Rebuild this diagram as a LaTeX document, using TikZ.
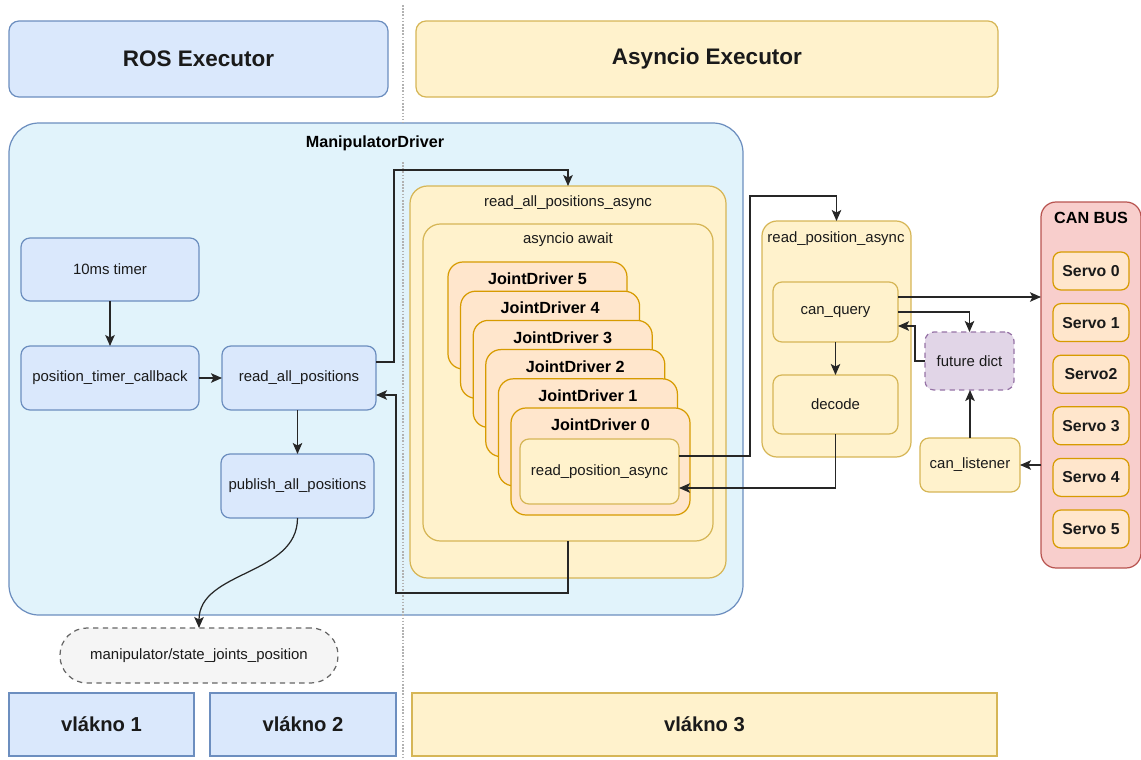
\documentclass[tikz,border=0pt]{standalone}
\usepackage{fontspec}
\setmainfont{Liberation Sans}
\usetikzlibrary{arrows.meta, positioning, calc}
\definecolor{BF}{HTML}{DAE8FC}
\definecolor{BS}{HTML}{6C8EBF}
\definecolor{CF}{HTML}{E1F3FB}
\definecolor{YF}{HTML}{FFF2CC}
\definecolor{YS}{HTML}{D6B656}
\definecolor{OF}{HTML}{FFE6CC}
\definecolor{OS}{HTML}{D79B00}
\definecolor{RF}{HTML}{F8CECC}
\definecolor{RS}{HTML}{B85450}
\definecolor{PF}{HTML}{E1D5E7}
\definecolor{PS}{HTML}{9673A6}
\definecolor{GF}{HTML}{F5F5F5}
\definecolor{GS}{HTML}{666666}
\definecolor{TX}{HTML}{1A1A1A}
\newcommand{\fsz}[1]{\fontsize{#1}{#1}\selectfont}

\begin{document}
\begin{tikzpicture}[x=0.2mm, y=-0.2mm,
  dim/.style 2 args={minimum width=#1*0.2mm, minimum height=#2*0.2mm},
  base/.style={anchor=north west, inner sep=0pt, outer sep=0pt, line width=0.7pt,
               align=center, text=TX, font=\fsz{8.5pt}},
  bbox/.style={base, draw=BS, fill=BF, rounded corners=1.8mm},
  ybox/.style={base, draw=YS, fill=YF, rounded corners=1.8mm},
  obox/.style={base, draw=OS, fill=OF, rounded corners=1.6mm, font=\fsz{9pt}\bfseries},
  lbl/.style={text=TX, font=\fsz{8.5pt}},
  ttl/.style={text=black, font=\fsz{9.2pt}\bfseries},
  thr/.style={rounded corners=0pt, font=\fsz{11.5pt}\bfseries},
  exe/.style={rounded corners=2mm, font=\fsz{12.8pt}\bfseries},
  dsh/.style={dash pattern=on 3pt off 2.5pt},
  arr/.style={-{Stealth[length=2.2mm, width=1.9mm, inset=0.5mm]}, line width=0.7pt, draw=black!85},
  divider/.style={draw=gray!60, line width=1.1pt, dash pattern=on 0.9pt off 0.9pt}
]
\useasboundingbox (0,0) rectangle (1141,760);

% executors
\node[bbox, exe, dim={379}{76}] (rosx) at (9,21) {ROS Executor};
\node[ybox, exe, dim={582}{76}] (asyx) at (416,21) {Asyncio Executor};

% manipulator driver
\node[base, draw=BS, fill=CF, dim={734}{492}, rounded corners=6mm] (mdrv) at (9,123) {};
\node[ttl] (mdlbl) at (375,143) {ManipulatorDriver};

\draw[divider] (403,5) -- (403,123);
\draw[divider] (403,162) -- (403,760);

\node[bbox, dim={178}{63}] (timer) at (21,238) {10ms timer};
\node[bbox, dim={178}{64}] (tcb) at (21,346) {position\_timer\_callback};
\node[bbox, dim={154}{64}] (rap) at (222,346) {read\_all\_positions};
\node[bbox, dim={153}{64}] (pub) at (221,454) {publish\_all\_positions};

\node[base, draw=GS, fill=GF, dsh, dim={278}{55}, rounded corners=5.4mm] (topic) at (60,628)
  {manipulator/state\_joints\_position};

% threads
\node[bbox, thr, dim={185}{63}] (th1) at (9,693) {vlákno 1};
\node[bbox, thr, dim={186}{63}] (th2) at (210,693) {vlákno 2};
\node[ybox, thr, dim={585}{63}] (th3) at (412,693) {vlákno 3};

% async part
\node[ybox, dim={316}{392}, rounded corners=3.5mm] (rapa) at (410,186) {};
\node[lbl] at (568,203) {read\_all\_positions\_async};
\node[ybox, dim={290}{317}, rounded corners=3.5mm] (await) at (423,224) {};
\node[lbl] at (568,240) {asyncio await};

\foreach \i in {5,...,0} {
  \node[obox, dim={179}{107}, rounded corners=3mm] (jd\i) at ({511-12.6*\i},{408-29.2*\i}) {};
  \node[ttl] at ($(jd\i.north)+(0,17)$) {JointDriver \i};
}
\node[ybox, dim={159}{65}] (rpai) at (520,439) {read\_position\_async};

% can side
\node[ybox, dim={149}{236}, rounded corners=3mm] (rpac) at (762,221) {};
\node[lbl] at (836,239) {read\_position\_async};
\node[ybox, dim={125}{60}] (cq) at (773,282) {can\_query};
\node[ybox, dim={125}{59}] (dec) at (773,375) {decode};
\node[base, draw=PS, fill=PF, dsh, dim={89}{58}, rounded corners=1.8mm] (fdict) at (925,332) {future dict};
\node[ybox, dim={100}{54}] (clis) at (920,438) {can\_listener};

\node[base, draw=RS, fill=RF, dim={100}{366}, rounded corners=3mm] (can) at (1041,202) {};
\node[ttl] at (1091,218) {CAN BUS};
\foreach \i/\t in {0/Servo 0, 1/Servo 1, 2/Servo2, 3/Servo 3, 4/Servo 4, 5/Servo 5}
  \node[obox, dim={76}{38}] (srv\i) at (1053,{252+51.6*\i}) {\t};

% connectors
\draw[arr] (timer.south) -- (tcb.north);
\draw[arr] (tcb.east) -- (rap.west);
\draw[arr] (pub.north |- rap.south) -- (pub.north);
\draw[arr] (pub.south) to[out=-90, in=90] (topic.north);
\draw[arr] ([yshift=3.2mm]rap.east) -| (394,170) -| (rapa.north);
\draw[arr] (await.south) |- (396,593) |- ([yshift=-3.4mm]rap.east);
\draw[arr] ([yshift=3.1mm]rpai.east) -| (750,196) -| (rpac.north);
\draw[arr] (dec.south) |- ([yshift=-3.3mm]rpai.east);
\draw[arr] (cq.south) -- (dec.north);
\draw[arr] ([yshift=3mm]cq.east) -- ([yshift=3mm]cq.east -| can.west);
\draw[arr] (cq.east) -| (fdict.north);
\draw[arr] (fdict.west) -- ++(-10,0) |- ([yshift=-2.8mm]cq.east);
\draw[arr] (clis.north) -- (clis.north |- fdict.south);
\draw[arr] (can.west |- clis.east) -- (clis.east);
\end{tikzpicture}
\end{document}
